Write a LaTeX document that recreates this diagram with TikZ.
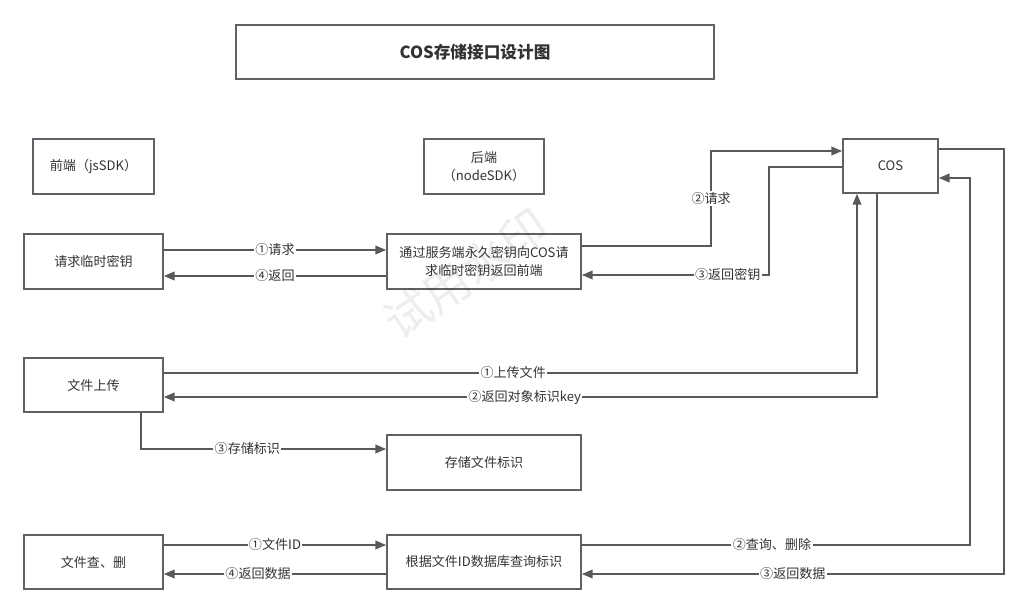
\documentclass[tikz,border=0pt]{standalone}
\usepackage{fontspec}
\setmainfont{Noto Sans CJK SC}
\usetikzlibrary{arrows.meta,calc}
\definecolor{boxline}{HTML}{5F6166}
\definecolor{flowline}{HTML}{595959}
\definecolor{inkgray}{HTML}{333333}
\tikzset{
	box/.style 2 args={draw=boxline, line width=1.3pt, fill=white, text=inkgray, align=center,
		inner sep=2pt, minimum width=#1*0.75pt, minimum height=#2*0.75pt,
		font=\fontsize{9.8}{13.5}\selectfont},
	flow/.style={draw=flowline, line width=1pt, -{Triangle[length=8pt,width=6.5pt]}},
	tag/.style={fill=white, inner sep=1pt, text=inkgray, font=\fontsize{9.8}{11}\selectfont},
}

\begin{document}
\begin{tikzpicture}[x=0.75pt, y=-0.75pt]
			\useasboundingbox (0,0) rectangle (1027,614);

			\node[box={478}{54}, font=\fontsize{12.5}{15}\selectfont\bfseries] (title) at (475,52) {COS存储接口设计图};

			\node[box={121}{55}] (front) at (93.5,166.5) {前端（jsSDK）};
			\node[box={120}{55}] (back) at (484,166.5) {后端\\（nodeSDK）};
			\node[box={95}{54}] (cos) at (890.5,166) {COS};

			\node[box={139}{55}] (req) at (93.5,261.5) {请求临时密钥};
			\node[box={194}{55}] (srv) at (484,261.5) {通过服务端永久密钥向COS请\\求临时密钥返回前端};

			\node[box={139}{54}] (up) at (93.5,385) {文件上传};
			\node[box={194}{55}] (store) at (484,462.5) {存储文件标识};

			\node[box={139}{54}] (qry) at (93.5,562) {文件查、删};
			\node[box={194}{54}] (db) at (484,562) {根据文件ID数据库查询标识};

			% temporary key
			\draw[flow] ($(req.east)+(0,-11.5)$) -- node[tag] {①请求} ($(srv.west)+(0,-11.5)$);
			\draw[flow] ($(srv.west)+(0,14.5)$) -- node[tag] {④返回} ($(req.east)+(0,14.5)$);
			\draw[flow] ($(srv.east)+(0,-15.5)$) -| node[tag, pos=0.75] {②请求} ($(cos.west)+(-131,-15)$) -- ($(cos.west)+(0,-15)$);
			\draw[flow] ($(cos.west)+(0,1)$) -| ($(srv.east)+(187,13.5)$) -- node[tag, pos=0.22] {③返回密钥} ($(srv.east)+(0,13.5)$);

			% upload
			\draw[flow] ($(up.east)+(0,-12)$) -| node[tag, pos=0.252] {①上传文件} ($(cos.south)+(-33.5,0)$);
			\draw[flow] ($(cos.south)+(-13.5,0)$) |- node[tag, pos=0.747] {②返回对象标识key} ($(up.east)+(0,12)$);
			\draw[flow] ($(up.south)+(47.5,0)$) |- node[tag, pos=0.717] {③存储标识} ($(store.west)+(0,-13.5)$);

			% query, delete
			\draw[flow] ($(qry.east)+(0,-17)$) -- node[tag] {①文件ID} ($(db.west)+(0,-17)$);
			\draw[flow] ($(db.west)+(0,12)$) -- node[tag, pos=0.576] {④返回数据} ($(qry.east)+(0,12)$);
			\draw[flow] ($(db.east)+(0,-17)$) -| node[tag, pos=0.245] {②查询、删除} ($(cos.east)+(31,12)$) -- ($(cos.east)+(0,12)$);
			\draw[flow] ($(cos.east)+(0,-17)$) -| ($(db.east)+(422,12)$) -- node[tag] {③返回数据} ($(db.east)+(0,12)$);

			\node[text=black, text opacity=0.07, rotate=35, font=\fontsize{35}{35}\selectfont] (mark) at (466,274) {试用水印};
		\end{tikzpicture}
\end{document}
